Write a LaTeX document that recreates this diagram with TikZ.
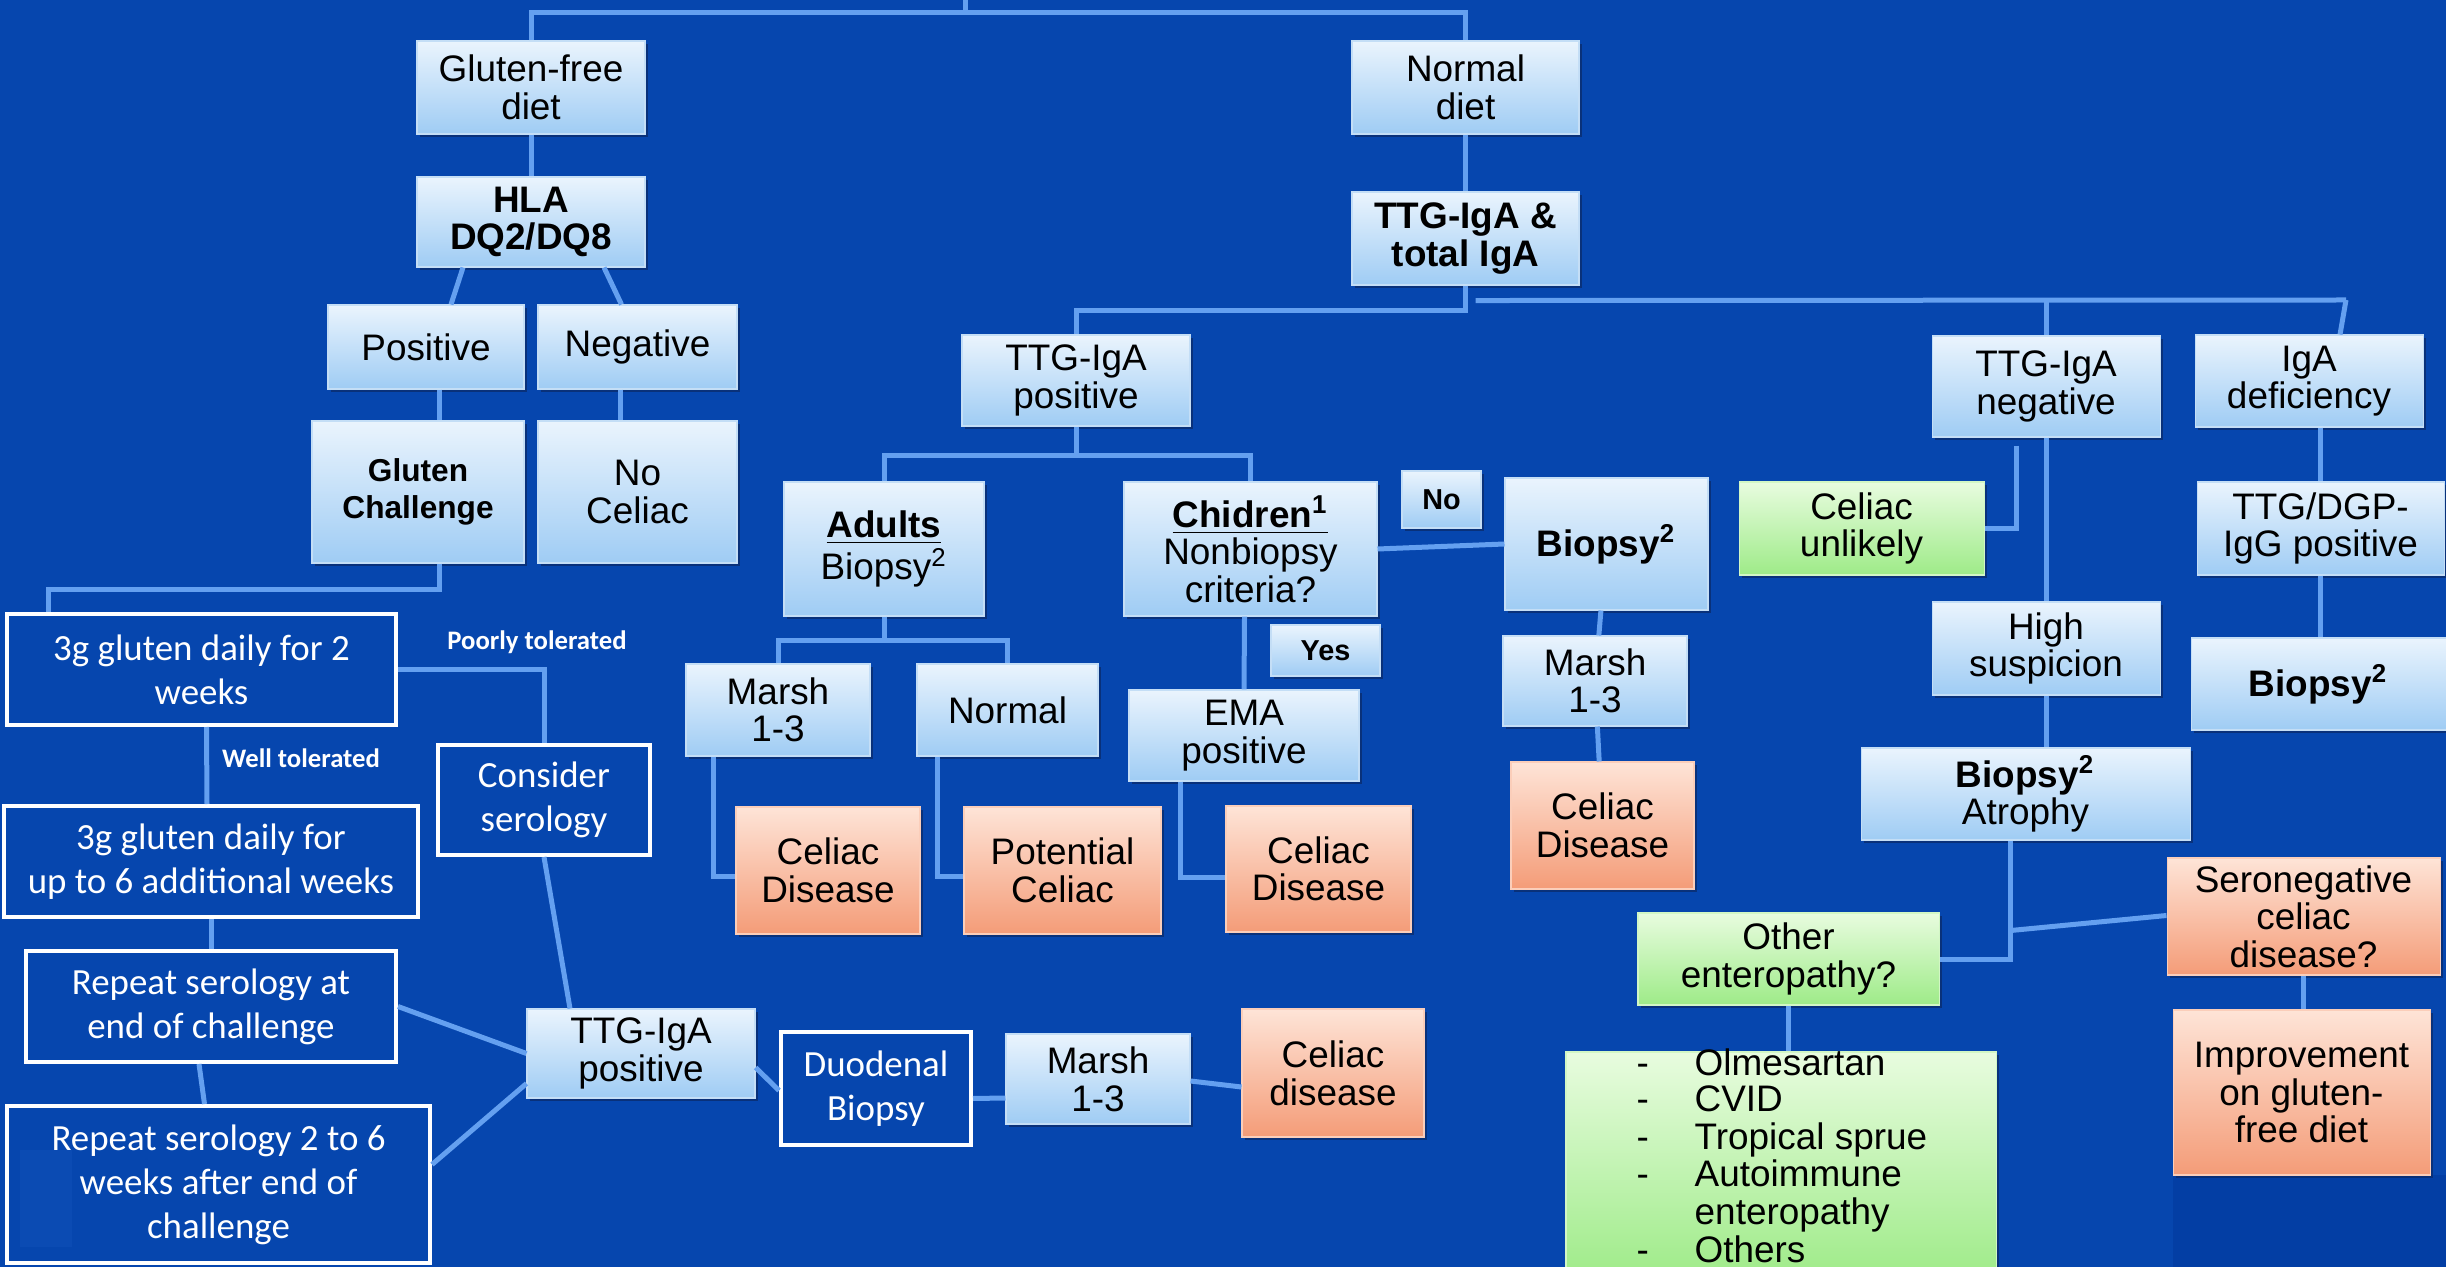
\documentclass[tikz,border=0pt]{standalone}
\usepackage{fontspec}
\setmainfont{Liberation Sans}
\newfontfamily\calibfont{Carlito}
\usetikzlibrary{calc,shadows}
\definecolor{bgblue}{HTML}{0646AE}
\definecolor{bgdark}{HTML}{033EA4}
\definecolor{bglite}{HTML}{0B4BB3}
\definecolor{linkblue}{HTML}{64A0F0}
\definecolor{lbtop}{HTML}{EAF4FD}
\definecolor{lbbot}{HTML}{9FCCF4}
\definecolor{lbedge}{HTML}{C4DEF6}
\definecolor{dxtop}{HTML}{FEE4D7}
\definecolor{dxbot}{HTML}{F49C78}
\definecolor{oktop}{HTML}{E8FCDF}
\definecolor{okbot}{HTML}{9EEB88}
\definecolor{shade}{HTML}{0A2C6E}

\begin{document}
\begin{tikzpicture}[x=0.1mm,y=-0.1mm,
  wh/.style 2 args={minimum width=#1mm,minimum height=#2mm},
  base/.style={rectangle,inner sep=2pt,align=center,text=black,
     font=\fontsize{10.5}{10.7}\selectfont,
     drop shadow={shadow xshift=0.3mm,shadow yshift=-0.3mm,fill=shade,opacity=0.8}},
  box/.style={base,draw=lbedge,line width=0.3pt,top color=lbtop,bottom color=lbbot},
  dxbox/.style={base,draw=dxtop!70!dxbot,line width=0.3pt,top color=dxtop,bottom color=dxbot},
  okbox/.style={base,draw=oktop!70!okbot,line width=0.3pt,top color=oktop,bottom color=okbot},
  heavy/.style={font=\bfseries\fontsize{10.5}{10.7}\selectfont},
  small/.style={font=\bfseries\fontsize{8.2}{9}\selectfont},
  stepbox/.style={rectangle,draw=white,line width=0.4mm,inner sep=2pt,align=center,
     text=white,font=\calibfont\fontsize{10.5}{12.5}\selectfont},
  tag/.style={text=white,inner sep=1pt,font=\calibfont\bfseries\fontsize{7.6}{9}\selectfont},
  link/.style={draw=linkblue,line width=0.5mm}]

% background
\fill[bgblue] (0,0) rectangle (2446,1267);
\useasboundingbox (0,0) rectangle (2446,1267);
\fill[bglite] (20,1150) rectangle (72,1247);
\fill[bgdark] (2173,1175) rectangle (2446,1267);

% diet branches
\node[box,wh={22.8}{9.3}] (gfd) at (531,87.5) {Gluten-free\\diet};
\node[box,heavy,wh={22.8}{9.0}] (hla) at (531,222) {HLA\\DQ2/DQ8};
\node[box,wh={19.6}{8.4}] (pos) at (426,347) {Positive};
\node[box,wh={19.9}{8.4}] (neg) at (637.5,347) {Negative};
\node[box,wh={21.2}{14.2},font=\bfseries\fontsize{9}{10.7}\selectfont] (gch) at (418,492) {Gluten\\Challenge};
\node[box,wh={19.9}{14.2}] (noc) at (637.5,492) {No\\Celiac};
\node[box,wh={22.7}{9.3}] (nd) at (1465.5,87.5) {Normal\\diet};
\node[box,heavy,wh={22.7}{9.3}] (ttg) at (1465.5,238.5) {TTG-IgA \&\\total IgA};

% gluten challenge steps
\node[stepbox,wh={38.9}{11.1}] (wk2) at (201.5,669.5) {3g gluten daily for 2\\weeks};
\node[stepbox,wh={41.4}{11.1}] (wk6) at (211,861.5) {3g gluten daily for\\up to 6 additional weeks};
\node[stepbox,wh={37.0}{11.1}] (rep1) at (211,1006.5) {Repeat serology at\\end of challenge};
\node[stepbox,wh={42.3}{15.7}] (rep2) at (218.5,1184.5) {Repeat serology 2 to 6\\weeks after end of\\challenge};
\node[stepbox,wh={21.2}{11.0}] (cons) at (544,800) {Consider\\serology};
\node[stepbox,wh={19.0}{11.3}] (duo) at (876,1088.5) {Duodenal\\Biopsy};
\node[tag] (poor) at (537,642) {Poorly tolerated};
\node[tag] (well) at (301,758) {Well tolerated};
\node[box,wh={22.8}{8.9}] (tpos2) at (641,1053.5) {TTG-IgA\\positive};
\node[box,wh={18.4}{9.0}] (mar3) at (1098,1079) {Marsh\\1-3};
\node[dxbox,wh={18.2}{12.8}] (cd4) at (1333,1073) {Celiac\\disease};

% TTG-IgA positive
\node[box,wh={22.8}{9.1}] (tpos) at (1076,380.5) {TTG-IgA\\positive};
\node[box,wh={20.0}{13.4}] (adu) at (884,549) {\textbf{\underline{Adults}}\\Biopsy\textsuperscript{2}};
\node[box,wh={25.3}{13.4}] (chi) at (1250.5,549) {\textbf{\underline{Chidren\textsuperscript{1}}}\\Nonbiopsy\\criteria?};
\node[box,small,wh={7.9}{5.7}] (no) at (1441.5,499.5) {No};
\node[box,small,wh={10.9}{5.1}] (yes) at (1325.5,650.5) {Yes};
\node[box,heavy,wh={20.3}{13.2}] (bio) at (1606.5,544) {Biopsy\textsuperscript{2}};
\node[box,wh={18.4}{9.2}] (mar1) at (778,710) {Marsh\\1-3};
\node[box,wh={18.1}{9.2}] (nor) at (1007.5,710) {Normal};
\node[box,wh={23.0}{9.1}] (ema) at (1244,735.5) {EMA\\positive};
\node[box,wh={18.4}{9.0}] (mar2) at (1595,681) {Marsh\\1-3};
\node[dxbox,wh={18.4}{12.7}] (cd1) at (828,870.5) {Celiac\\Disease};
\node[dxbox,wh={19.7}{12.7}] (pot) at (1062.5,870.5) {Potential\\Celiac};
\node[dxbox,wh={18.5}{12.6}] (cd2) at (1318.5,869) {Celiac\\Disease};
\node[dxbox,wh={18.3}{12.7}] (cd3) at (1602.5,825.5) {Celiac\\Disease};

% TTG-IgA negative / IgA deficiency
\node[box,wh={22.8}{10.1}] (tneg) at (2046,386.5) {TTG-IgA\\negative};
\node[box,wh={22.8}{9.2}] (igad) at (2309,381) {IgA\\deficiency};
\node[okbox,wh={24.5}{9.3}] (cunl) at (1861.5,528.5) {Celiac\\unlikely};
\node[box,wh={22.8}{9.3}] (hisus) at (2046,648.5) {High\\suspicion};
\node[box,wh={32.9}{9.2}] (batr) at (2025.5,794) {\textbf{Biopsy\textsuperscript{2}}\\Atrophy};
\node[box,wh={24.7}{9.3}] (dgp) at (2320.5,528.5) {TTG/DGP-\\IgG positive};
\node[box,heavy,wh={25.5}{9.2}] (bio2) at (2318.5,684) {Biopsy\textsuperscript{2}};
\node[okbox,wh={30.1}{9.2}] (oent) at (1788.5,959) {Other\\enteropathy?};
\node[okbox,wh={43.0}{22.8}] (olist) at (1781,1166) {};
\node[anchor=base west,inner sep=0pt,font=\fontsize{10.5}{10.3}\selectfont] (olisttxt) at (1636,1075)
  {\begin{tabular}[t]{@{}p{5.8mm}@{}l@{}}
   - & Olmesartan\\ - & CVID\\ - & Tropical sprue\\ - & Autoimmune\\ & enteropathy\\ - & Others
   \end{tabular}};
\node[dxbox,wh={27.3}{11.7}] (sero) at (2303.5,916.5) {Seronegative\\celiac\\disease?};
\node[dxbox,wh={25.7}{16.5}] (imp) at (2301.5,1092.5) {Improvement\\on gluten-\\free diet};

% connectors
\coordinate (root) at (965,0);
\draw[link] (root) -- ++(0,13) coordinate (rootj);
\draw[link] (gfd.north) |- (rootj) -| (nd.north);
\draw[link] (gfd) -- (hla);
\draw[link] ($(hla.south)+(-68,0)$) -- ($(pos.north)+(25,0)$);
\draw[link] ($(hla.south)+(73,0)$) -- ($(neg.north)+(-16,0)$);
\draw[link] ($(pos.south)+(13,0)$) -- ($(gch.north)+(21,0)$);
\draw[link] ($(neg.south)+(-17,0)$) -- ($(noc.north)+(-17,0)$);
\draw[link] ($(gch.south)+(21,0)$) -- ++(0,26) -| ($(wk2.north west)+(43,0)$);
\draw[link] (wk2.east) -| (cons.north);
\draw[link] ($(wk2.south)+(5,0)$) -- ($(wk6.north)+(-4,0)$);
\draw[link] (wk6) -- (rep1);
\draw[link] ($(rep1.south)+(-12,0)$) -- ($(rep2.north)+(-14,0)$);
\draw[link] (cons.south) -- ($(tpos2.north)+(-71,0)$);
\draw[link] (rep1.east) -- (tpos2.west);
\draw[link] ($(rep2.east)+(0,-20)$) -- ($(tpos2.south west)+(0,-15)$);
\draw[link] ($(tpos2.east)+(0,14)$) -- ($(duo.west)+(0,2)$);
\draw[link] ($(duo.east)+(0,10)$) -- ($(mar3.west)+(0,19)$);
\draw[link] ($(mar3.east)+(0,2)$) -- ($(cd4.west)+(0,14)$);
\draw[link] (nd) -- (ttg);
\draw[link] (ttg.south) -- ++(0,25) -| (tpos.north);
\coordinate (rj) at (2346,300);
\draw[link] ($(ttg.south)+(10,15)$) -- (rj);
\draw[link] (rj) -- ($(igad.north)+(31,0)$);
\draw[link] (tneg.north |- rj) -- (tneg.north);
\draw[link] (tpos.south) -- ++(0,29) coordinate (tj);
\draw[link] (adu.north) |- (tj) -| (chi.north);
\draw[link] (adu.south) -- ++(0,24) coordinate (aj);
\draw[link] (mar1.north) |- (aj) -| (nor.north);
\draw[link] ($(mar1.south)+(-65,0)$) |- ($(cd1.west)+(0,6)$);
\draw[link] ($(nor.south)+(-70,0)$) |- ($(pot.west)+(0,6)$);
\draw[link] ($(chi.south)+(-6,0)$) -- (ema.north);
\draw[link] ($(ema.south)+(-64,0)$) |- ($(cd2.west)+(0,8)$);
\draw[link] (chi.east) -- (bio.west);
\draw[link] (bio) -- (mar2);
\draw[link] (mar2) -- (cd3);
\draw[link] ($(tneg.south)+(-30,8)$) |- (cunl.east);
\draw[link] (tneg) -- (hisus);
\draw[link] (hisus.south) -- (hisus.south |- batr.north);
\draw[link] ($(batr.south)+(-15,0)$) |- (oent.east);
\draw[link] ($(batr.south)+(-15,90)$) -- ($(sero.west)+(0,-1)$);
\draw[link] (oent.south) -- (oent.south |- olist.north);
\draw[link] (sero.south) -- (sero.south |- imp.north);
\draw[link] (dgp.north |- igad.south) -- (dgp.north);
\draw[link] (dgp.south) -- (dgp.south |- bio2.north);
\end{tikzpicture}
\end{document}
